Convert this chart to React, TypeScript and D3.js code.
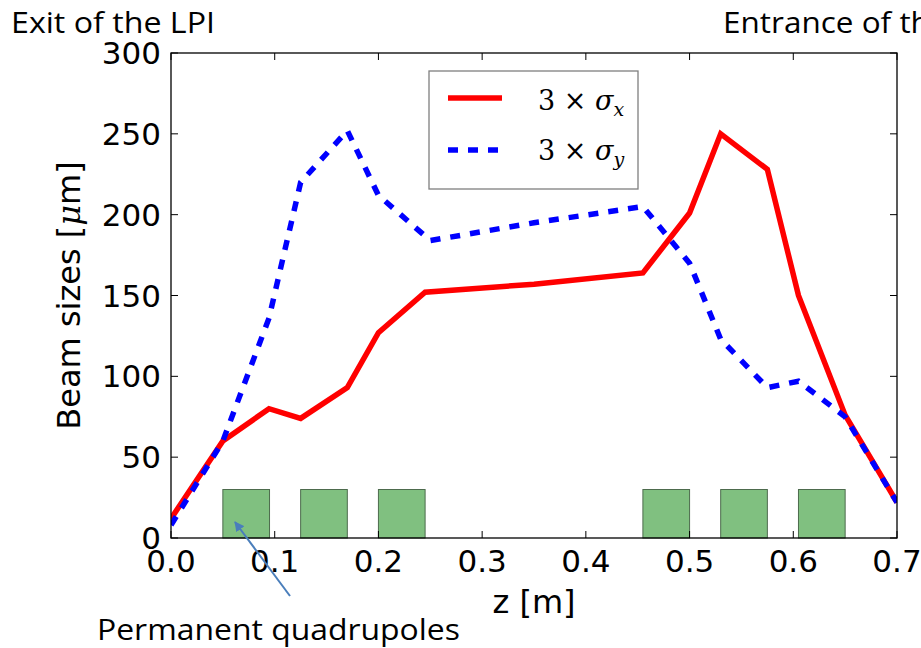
import * as d3 from 'd3';

// beam envelope along z (m), values in micrometres
const zRed = [0, 0.05, 0.0945, 0.125, 0.17, 0.2, 0.245, 0.35, 0.455, 0.5, 0.53, 0.575, 0.605, 0.65, 0.7];
const sigmaX = [12, 60, 80, 74, 93, 127, 152, 157, 164, 201, 250, 228, 150, 76, 22];

const zBlue = [0, 0.05, 0.0945, 0.125, 0.17, 0.2, 0.25, 0.35, 0.455, 0.5, 0.53, 0.575, 0.605, 0.65, 0.7];
const sigmaY = [8, 60, 136, 220, 252, 212, 184, 195, 205, 170, 123, 93, 97, 75, 22];

// permanent quadrupole positions (start, end) and drawn height
const quadStart = [0.05, 0.125, 0.2, 0.455, 0.53, 0.605];
const quadEnd = [0.095, 0.17, 0.245, 0.5, 0.575, 0.65];
const quadHeight = 30;

const xTicks = [0, 0.1, 0.2, 0.3, 0.4, 0.5, 0.6, 0.7];
const yTicks = [0, 50, 100, 150, 200, 250, 300];

const W = 921;
const H = 648;
const M = { left: 171, right: 897, top: 53, bottom: 538 };

export default function App() {
  const x = d3.scaleLinear().domain([0, 0.7]).range([M.left, M.right]);
  const y = d3.scaleLinear().domain([0, 300]).range([M.bottom, M.top]);

  const line = d3
    .line<[number, number]>()
    .x((d) => x(d[0]))
    .y((d) => y(d[1]));

  const redPath = line(zRed.map((z, i) => [z, sigmaX[i]]));
  const bluePath = line(zBlue.map((z, i) => [z, sigmaY[i]]));

  const tickFont = { fontFamily: 'DejaVu Sans', fontSize: 31 };
  const noteFont = { fontFamily: 'Open Sans', fontSize: 30 };
  const mathFont = { fontFamily: 'DejaVu Serif', fontSize: 27 };
  const tickLen = 7;

  return (
    <svg
      width={W}
      height={H}
      style={{ position: 'absolute', left: 0, top: 0, background: '#fff' }}
    >
      <defs>
        <clipPath id="plot">
          <rect x={M.left} y={M.top} width={M.right - M.left} height={M.bottom - M.top} />
        </clipPath>
        <marker id="head" viewBox="0 0 10 10" refX="9" refY="5" markerWidth="5" markerHeight="5" orient="auto">
          <path d="M0,0 L10,5 L0,10 z" fill="#4a7ebb" />
        </marker>
      </defs>

      {quadStart.map((s, i) => (
        <rect
          key={i}
          x={x(s)}
          y={y(quadHeight)}
          width={x(quadEnd[i]) - x(s)}
          height={y(0) - y(quadHeight)}
          fill="#80c080"
          stroke="#4d6b4d"
          strokeWidth={1}
        />
      ))}

      <g clipPath="url(#plot)">
        <path d={redPath ?? ''} fill="none" stroke="#ff0000" strokeWidth={5.5} strokeLinejoin="miter" />
        <path
          d={bluePath ?? ''}
          fill="none"
          stroke="#0000ff"
          strokeWidth={5.5}
          strokeDasharray="10 10"
        />
      </g>

      {/* frame */}
      <rect
        x={M.left}
        y={M.top}
        width={M.right - M.left}
        height={M.bottom - M.top}
        fill="none"
        stroke="#000"
        strokeWidth={1.3}
      />
      {xTicks.map((t) => (
        <g key={'x' + t}>
          <line x1={x(t)} x2={x(t)} y1={M.bottom} y2={M.bottom - tickLen} stroke="#000" />
          <line x1={x(t)} x2={x(t)} y1={M.top} y2={M.top + tickLen} stroke="#000" />
          <text x={x(t)} y={572} textAnchor="middle" {...tickFont}>
            {d3.format('.1f')(t)}
          </text>
        </g>
      ))}
      {yTicks.map((t) => (
        <g key={'y' + t}>
          <line x1={M.left} x2={M.left + tickLen} y1={y(t)} y2={y(t)} stroke="#000" />
          <line x1={M.right} x2={M.right - tickLen} y1={y(t)} y2={y(t)} stroke="#000" />
          <text x={161} y={y(t)} dy="0.36em" textAnchor="end" {...tickFont}>
            {t}
          </text>
        </g>
      ))}

      <text x={(M.left + M.right) / 2} y={613} textAnchor="middle" fontFamily="DejaVu Sans" fontSize={32}>
        z [m]
      </text>
      <text
        transform={`translate(80, ${(M.top + M.bottom) / 2}) rotate(-90)`}
        textAnchor="middle"
        fontFamily="DejaVu Sans"
        fontSize={32}
      >
        Beam sizes [<tspan fontFamily="DejaVu Serif" fontStyle="italic">μ</tspan>m]
      </text>

      {/* legend */}
      <rect x={429} y={71} width={209} height={118} fill="#fff" stroke="#7f7f7f" strokeWidth={1.3} />
      <line x1={448} x2={502} y1={98} y2={98} stroke="#ff0000" strokeWidth={5.5} />
      <line x1={448} x2={502} y1={150} y2={150} stroke="#0000ff" strokeWidth={5.5} strokeDasharray="10 10" />
      <text x={538} y={110} {...mathFont}>
        3 × <tspan fontStyle="italic">σ</tspan>
        <tspan fontStyle="italic" fontSize={19} dy={6}>x</tspan>
      </text>
      <text x={538} y={160} {...mathFont}>
        3 × <tspan fontStyle="italic">σ</tspan>
        <tspan fontStyle="italic" fontSize={19} dy={6}>y</tspan>
      </text>

      {/* annotations */}
      <text x={11} y={33} textLength={204} lengthAdjust="spacingAndGlyphs" {...noteFont}>
        Exit of the LPI
      </text>
      <text transform="translate(723, 33) scale(1.05, 1)" {...noteFont}>
        Entrance of the
      </text>
      <text x={97} y={640} textLength={363} lengthAdjust="spacingAndGlyphs" {...noteFont}>
        Permanent quadrupoles
      </text>
      <line x1={290} y1={596} x2={235} y2={522} stroke="#4a7ebb" strokeWidth={2} markerEnd="url(#head)" />
    </svg>
  );
}
